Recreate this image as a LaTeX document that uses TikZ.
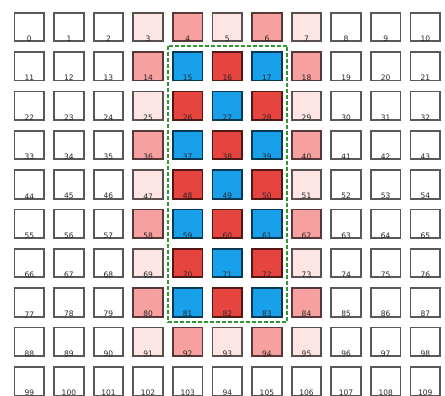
\documentclass[tikz,border=0pt]{standalone}
\usepackage{fontspec}
\setmainfont{DejaVu Sans}
\definecolor{cblue}{RGB}{25,160,235}
\definecolor{cred}{RGB}{230,68,62}
\definecolor{cmed}{RGB}{246,160,160}
\definecolor{clight}{RGB}{253,229,229}
\definecolor{cgreen}{RGB}{50,150,50}
\tikzset{
  cell/.style={line width=1.8pt, minimum width=29.5pt, minimum height=28.5pt, inner sep=0pt},
  lab/.style={font=\fontsize{7.5}{8}\selectfont, inner sep=0.3pt, anchor=south, text=black!85},
  region/.style={draw=cgreen, line width=1.9pt, dash pattern=on 4pt off 2pt}
}
\begin{document}
\begin{tikzpicture}[x=1pt,y=-1pt]
\path[use as bounding box, fill=white] (0,0) rectangle (445,396);
\foreach \r in {0,...,9} {
  \foreach \c in {0,...,10} {
    \pgfmathtruncatemacro\idx{\r*11+\c}
    \pgfmathtruncatemacro\pty{mod(\r+\c,2)}
    \pgfmathtruncatemacro\inring{and(and(\c>2,\c<8),\r<9)}
    \pgfmathtruncatemacro\ininner{and(and(\c>3,\c<7),and(\r>0,\r<8))}
    \def\fc{white}
    \ifnum\ininner=1
      \ifnum\pty=1 \def\fc{cblue}\else \def\fc{cred}\fi
    \else
      \ifnum\inring=1
        \ifnum\pty=0 \def\fc{cmed}\else \def\fc{clight}\fi
      \fi
    \fi
    \ifnum\idx=104 \def\txt{94}\else \edef\txt{\idx}\fi
    \node[cell, fill=\fc, draw=\fc!35!black] (b\idx) at (29.3+39.6*\c, 27.0+39.35*\r) {};
    \node[lab] (t\idx) at (b\idx.south) {\txt};
  }
}
\draw[region] (168,45.7) rectangle (287,322);
\end{tikzpicture}
\end{document}
